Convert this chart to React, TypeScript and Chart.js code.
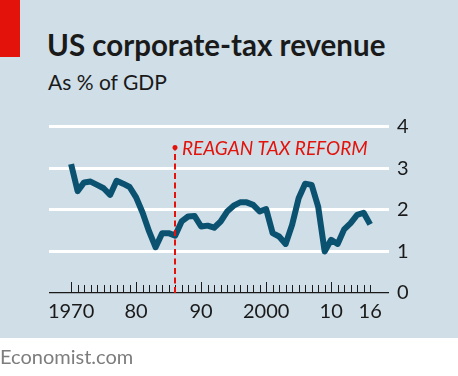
import React, { useEffect, useRef } from "react";
import { Chart, registerables } from "chart.js";

Chart.register(...registerables);

const years = [
  1970, 1971, 1972, 1973, 1974, 1975, 1976, 1977, 1978, 1979,
  1980, 1981, 1982, 1983, 1984, 1985, 1986, 1987, 1988, 1989,
  1990, 1991, 1992, 1993, 1994, 1995, 1996, 1997, 1998, 1999,
  2000, 2001, 2002, 2003, 2004, 2005, 2006, 2007, 2008, 2009,
  2010, 2011, 2012, 2013, 2014, 2015, 2016,
];
const revenue = [
  3.1, 2.45, 2.66, 2.68, 2.6, 2.52, 2.36, 2.7, 2.63, 2.55,
  2.3, 1.93, 1.48, 1.1, 1.44, 1.44, 1.38, 1.72, 1.84, 1.85,
  1.6, 1.62, 1.57, 1.72, 1.96, 2.1, 2.18, 2.18, 2.12, 1.96,
  2.02, 1.44, 1.36, 1.18, 1.64, 2.28, 2.63, 2.6, 2.08, 1.0,
  1.28, 1.18, 1.53, 1.68, 1.88, 1.93, 1.65,
];
const xLabelYears = [1970, 1980, 1990, 2000, 2010, 2016];
const majorTickYears = [1970, 1980, 1990, 2000, 2010];
const yTicks = [0, 1, 2, 3, 4];
const reaganYear = 1986;
const reaganLevel = 3.5;
const reaganLabel = "REAGAN TAX REFORM";

const BG = "#cfdee7";
const LINE = "#0b5170";
const RED = "#e3120b";
const FONT = "Lato, 'Open Sans', sans-serif";

const annotationPlugin = {
  id: "econAnnot",
  afterDatasetsDraw(chart: any) {
    const { ctx, scales } = chart;
    const xs = scales.x;
    const ys = scales.y;
    const base = ys.getPixelForValue(0);
    ctx.save();
    // year ticks
    ctx.strokeStyle = "#1a1a1a";
    ctx.lineWidth = 1;
    for (const yr of years) {
      const px = Math.round(xs.getPixelForValue(yr)) + 0.5;
      const major = majorTickYears.includes(yr);
      ctx.beginPath();
      ctx.moveTo(px, base);
      ctx.lineTo(px, base - (major ? 11 : 8));
      ctx.stroke();
    }
    // Reagan annotation
    const rx = Math.round(xs.getPixelForValue(reaganYear));
    const ry = ys.getPixelForValue(reaganLevel);
    ctx.strokeStyle = RED;
    ctx.lineWidth = 2;
    ctx.setLineDash([6, 3.5]);
    ctx.beginPath();
    ctx.moveTo(rx, base);
    ctx.lineTo(rx, ry);
    ctx.stroke();
    ctx.setLineDash([]);
    ctx.fillStyle = RED;
    ctx.beginPath();
    ctx.arc(rx, ry, 2.5, 0, Math.PI * 2);
    ctx.fill();
    ctx.font = `italic 19px ${FONT}`;
    ctx.textBaseline = "alphabetic";
    ctx.textAlign = "left";
    ctx.fillText(reaganLabel, rx + 7, ry + 8);
    ctx.restore();
  },
};

export default function App() {
  const ref = useRef<HTMLCanvasElement | null>(null);

  useEffect(() => {
    if (!ref.current) return;
    const chart = new Chart(ref.current, {
      type: "line",
      data: {
        datasets: [
          {
            data: years.map((y, i) => ({ x: y, y: revenue[i] })),
            borderColor: LINE,
            borderWidth: 6,
            pointRadius: 0,
            tension: 0,
            borderJoinStyle: "round",
            borderCapStyle: "butt",
            fill: false,
          },
        ],
      },
      options: {
        responsive: false,
        animation: false,
        events: [],
        layout: { padding: { left: 49, top: 126.7, right: 0, bottom: 0 } },
        plugins: { legend: { display: false }, tooltip: { enabled: false } },
        scales: {
          x: {
            type: "linear",
            min: 1966.6,
            max: 2018.9,
            afterFit: (s: any) => {
              s.height = 83;
            },
            afterBuildTicks: (s: any) => {
              s.ticks = xLabelYears.map((v) => ({ value: v }));
            },
            grid: { display: false, drawTicks: false },
            border: { display: false },
            ticks: {
              autoSkip: false,
              maxRotation: 0,
              padding: 7,
              color: "#1a1a1a",
              font: { family: FONT, size: 20 },
              callback: (v: any) =>
                v === 1970 || v === 2000 ? String(v) : String(v % 100),
            },
          },
          y: {
            position: "right",
            min: 0,
            max: 4,
            afterFit: (s: any) => {
              s.width = 69;
            },
            afterBuildTicks: (s: any) => {
              s.ticks = yTicks.map((v) => ({ value: v }));
            },
            grid: {
              drawTicks: false,
              color: (c: any) => (c.tick && c.tick.value === 0 ? "#1a1a1a" : "#ffffff"),
              lineWidth: (c: any) => (c.tick && c.tick.value === 0 ? 1.2 : 3),
            },
            border: { display: false },
            ticks: {
              padding: 8,
              color: "#1a1a1a",
              font: { family: FONT, size: 20 },
            },
          },
        },
      },
      plugins: [annotationPlugin],
    });
    return () => chart.destroy();
  }, []);

  return (
    <div
      style={{
        position: "fixed",
        left: 0,
        top: 0,
        width: 458,
        height: 376,
        background: "#ffffff",
        overflow: "hidden",
        fontFamily: FONT,
      }}
    >
      <div style={{ position: "absolute", left: 0, top: 0, width: 458, height: 338, background: BG }} />
      <div style={{ position: "absolute", left: 0, top: 0, width: 20, height: 57, background: RED }} />
      <div
        style={{
          position: "absolute",
          left: 47,
          top: 27,
          fontSize: 29.5,
          fontWeight: 700,
          color: "#1a1a1a",
          lineHeight: "36px",
          whiteSpace: "nowrap",
        }}
      >
        US corporate-tax revenue
      </div>
      <div
        style={{
          position: "absolute",
          left: 48,
          top: 68,
          fontSize: 21,
          color: "#1a1a1a",
          lineHeight: "28px",
          whiteSpace: "nowrap",
        }}
      >
        As % of GDP
      </div>
      <canvas ref={ref} width={458} height={376} style={{ position: "absolute", left: 0, top: 0 }} />
      <div
        style={{
          position: "absolute",
          left: 0,
          top: 343,
          fontSize: 20,
          color: "#7d7d7d",
          lineHeight: "26px",
          whiteSpace: "nowrap",
        }}
      >
        Economist.com
      </div>
    </div>
  );
}
